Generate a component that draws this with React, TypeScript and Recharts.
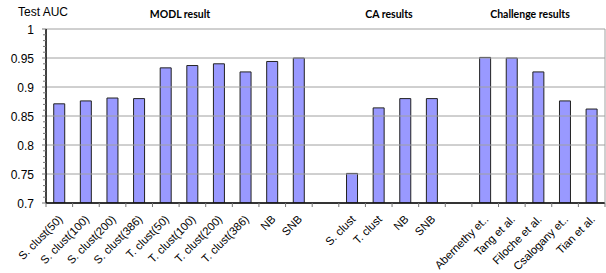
import React from 'react';
import { BarChart, Bar, XAxis, YAxis, ReferenceLine } from 'recharts';

const categories = [
  'S. clust(50)', 'S. clust(100)', 'S. clust(200)', 'S. clust(386)',
  'T. clust(50)', 'T. clust(100)', 'T. clust(200)', 'T. clust(386)', 'NB', 'SNB',
  '',
  'S. clust', 'T. clust', 'NB', 'SNB',
  ' ',
  'Abernethy et..', 'Tang et al.', 'Filoche et al.', 'Csalogany et..', 'Tian et al.',
];
const aucValues: (number | null)[] = [
  0.871, 0.876, 0.881, 0.880, 0.933, 0.937, 0.940, 0.926, 0.944, 0.950,
  null,
  0.751, 0.864, 0.880, 0.880,
  null,
  0.951, 0.950, 0.926, 0.876, 0.862,
];
const majorTicks = [0.7, 0.75, 0.8, 0.85, 0.9, 0.95, 1];
const allTicks = [
  0.7, 0.71, 0.72, 0.73, 0.74, 0.75, 0.76, 0.77, 0.78, 0.79,
  0.8, 0.81, 0.82, 0.83, 0.84, 0.85, 0.86, 0.87, 0.88, 0.89,
  0.9, 0.91, 0.92, 0.93, 0.94, 0.95, 0.96, 0.97, 0.98, 0.99, 1,
];
const groupTitles = [
  { text: 'MODL result', x: 180 },
  { text: 'CA results', x: 389 },
  { text: 'Challenge results', x: 530 },
];

const data = categories.map((c, i) => ({ name: c, auc: aucValues[i] }));

const W = 606;
const H = 273;
const PLOT_LEFT = 46;
const PLOT_RIGHT = 605;
const BAND = (PLOT_RIGHT - PLOT_LEFT) / categories.length;

const isMajor = (v: number) => majorTicks.some((m) => Math.abs(m - v) < 1e-6);

const YTick = (props: any) => {
  const { y, payload } = props;
  const v = payload.value as number;
  const major = isMajor(v);
  const ax = PLOT_LEFT;
  return (
    <g>
      <line x1={ax - (major ? 4 : 3)} x2={ax} y1={y} y2={y} stroke="#777" strokeWidth={1} />
      {major && (
        <text x={ax - 12} y={y} dy={4.5} textAnchor="end" fontSize={12} fill="#000"
          fontFamily="'Liberation Sans', Arial, sans-serif">
          {String(v)}
        </text>
      )}
    </g>
  );
};

const XTick = (props: any) => {
  const { x, y, payload, index } = props;
  const off = payload && payload.offset ? payload.offset : BAND / 2;
  const ay = y;
  return (
    <g>
      <line x1={x - off} x2={x - off} y1={ay - 8} y2={ay - 4} stroke="#777" />
      {index === categories.length - 1 && (
        <line x1={x + off} x2={x + off} y1={ay - 8} y2={ay - 4} stroke="#777" />
      )}
      <g transform={`translate(${x + 4},${ay + 9}) rotate(-45)`}>
        <text x={0} y={0} textAnchor="end" fontSize={11.3} fill="#000"
          fontFamily="'Liberation Sans', Arial, sans-serif">
          {payload.value}
        </text>
      </g>
    </g>
  );
};

export default function App() {
  return (
    <div style={{ position: 'fixed', left: 0, top: 0, width: W, height: H, background: '#fff' }}>
      <div style={{ position: 'absolute', left: 18, top: 5, fontSize: 12,
        fontFamily: "'Liberation Sans', Arial, sans-serif", color: '#000' }}>Test AUC</div>
      {groupTitles.map((g) => (
        <div key={g.text} style={{ position: 'absolute', left: g.x - 60, width: 120, top: 8,
          textAlign: 'center', fontSize: 10.5, fontWeight: 700,
          fontFamily: "Lato, 'Open Sans', sans-serif", color: '#000' }}>{g.text}</div>
      ))}
      <BarChart width={W} height={H} data={data}
        margin={{ top: 29, right: 0, bottom: 0, left: 0 }} barCategoryGap="29%">
        {majorTicks.map((t) => (
          <ReferenceLine key={t} y={t} stroke="#a0a0a0" strokeWidth={1} ifOverflow="extendDomain" />
        ))}
        <XAxis dataKey="name" interval={0} tick={<XTick />} tickLine={false}
          axisLine={{ stroke: '#000', strokeWidth: 1.5 }} height={70} />
        <YAxis domain={[0.7, 1]} ticks={allTicks} interval={0} tick={<YTick />} tickLine={false}
          axisLine={{ stroke: '#000', strokeWidth: 1.5 }} width={46} allowDataOverflow />
        <YAxis yAxisId="r" orientation="right" width={1} tick={false} tickLine={false}
          axisLine={{ stroke: '#a0a0a0' }} />
        <Bar dataKey="auc" fill="#9999ff" stroke="#222" strokeWidth={1} isAnimationActive={false} />
      </BarChart>
    </div>
  );
}
